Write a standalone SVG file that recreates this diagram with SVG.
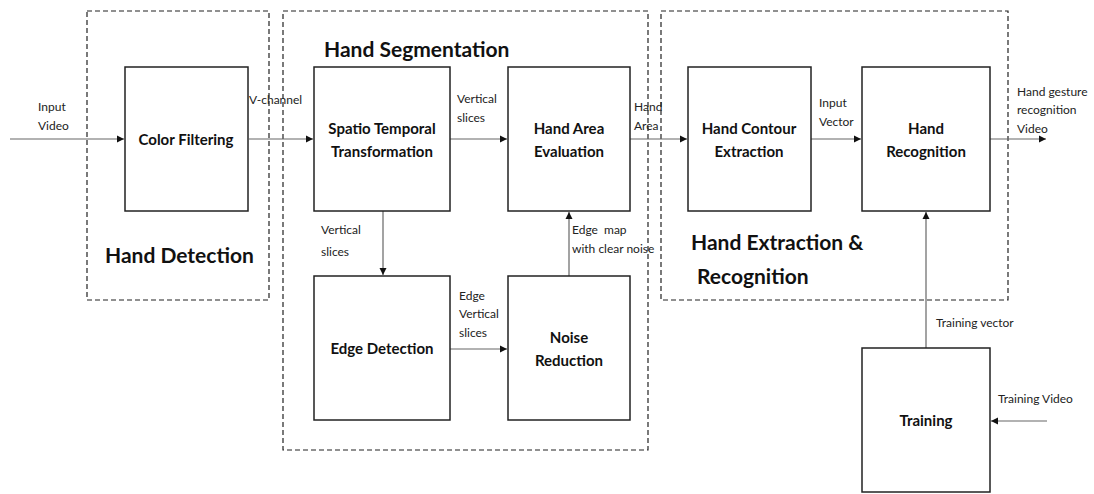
<svg xmlns="http://www.w3.org/2000/svg" width="1094" height="494" viewBox="0 0 1094 494">
  <style>
    .box { fill: #fff; stroke: #222; stroke-width: 1.5; }
    .grp { fill: none; stroke: #222; stroke-width: 1.2; stroke-dasharray: 5 3; }
    .edge { stroke: #666; stroke-width: 1.2; fill: none; marker-end: url(#arrow); }
    .lbl { font-family: Lato, "Open Sans", sans-serif; font-size: 12px; fill: #222; }
    .node { font-family: Lato, "Open Sans", sans-serif; font-size: 15px; font-weight: bold; fill: #111; text-anchor: middle; }
    .title { font-family: Lato, "Open Sans", sans-serif; font-size: 21px; font-weight: bold; fill: #111; }
  </style>
  <defs>
    <marker id="arrow" markerWidth="8" markerHeight="8" refX="7" refY="4" orient="auto" markerUnits="userSpaceOnUse">
      <path d="M0,0.5 L7,4 L0,7.5 z" fill="#111"/>
    </marker>
  </defs>
  <rect width="1094" height="494" fill="#fff"/>

  <!-- stage groups -->
  <g id="groups">
    <rect class="grp" x="87" y="11" width="182" height="289"/>
    <rect class="grp" x="283" y="11" width="365" height="439"/>
    <rect class="grp" x="661" y="11" width="347" height="289"/>
    <text class="title" x="105" y="263">Hand Detection</text>
    <text class="title" x="324" y="57">Hand Segmentation</text>
    <text class="title" x="691" y="250">Hand Extraction &amp;</text>
    <text class="title" x="697" y="284">Recognition</text>
  </g>

  <!-- connectors -->
  <g id="connectors">
    <line class="edge" x1="10" y1="139" x2="124" y2="139"/>
    <line class="edge" x1="249" y1="139" x2="313" y2="139"/>
    <line class="edge" x1="450" y1="139" x2="507" y2="139"/>
    <line class="edge" x1="630" y1="139" x2="687" y2="139"/>
    <line class="edge" x1="811" y1="139" x2="861" y2="139"/>
    <line class="edge" x1="990" y1="139" x2="1046" y2="139"/>
    <line class="edge" x1="383" y1="211" x2="383" y2="275"/>
    <line class="edge" x1="450" y1="349" x2="507" y2="349"/>
    <line class="edge" x1="569" y1="276" x2="569" y2="212"/>
    <line class="edge" x1="926" y1="348" x2="926" y2="212"/>
    <line class="edge" x1="1047" y1="421" x2="991" y2="421"/>

    <text class="lbl" x="38" y="111">Input</text>
    <text class="lbl" x="38" y="130">Video</text>
    <text class="lbl" x="249" y="104">V-channel</text>
    <text class="lbl" x="457" y="103">Vertical</text>
    <text class="lbl" x="457" y="122">slices</text>
    <text class="lbl" x="634" y="111">Hand</text>
    <text class="lbl" x="634" y="130">Area</text>
    <text class="lbl" x="819" y="107">Input</text>
    <text class="lbl" x="819" y="126">Vector</text>
    <text class="lbl" x="1017" y="96">Hand gesture</text>
    <text class="lbl" x="1017" y="114">recognition</text>
    <text class="lbl" x="1017" y="133">Video</text>
    <text class="lbl" x="321" y="234">Vertical</text>
    <text class="lbl" x="321" y="256">slices</text>
    <text class="lbl" x="459" y="300">Edge</text>
    <text class="lbl" x="459" y="318">Vertical</text>
    <text class="lbl" x="459" y="337">slices</text>
    <text class="lbl" x="572" y="234" xml:space="preserve">Edge  map</text>
    <text class="lbl" x="572" y="253">with clear noise</text>
    <text class="lbl" x="936" y="327">Training vector</text>
    <text class="lbl" x="998" y="403">Training Video</text>
  </g>

  <!-- processing blocks -->
  <g id="color-filtering">
    <rect class="box" x="125" y="67" width="123" height="144"/>
    <text class="node" x="186" y="145">Color Filtering</text>
  </g>
  <g id="spatio-temporal">
    <rect class="box" x="314" y="67" width="136" height="144"/>
    <text class="node" x="382" y="134">Spatio Temporal</text>
    <text class="node" x="382" y="157">Transformation</text>
  </g>
  <g id="hand-area">
    <rect class="box" x="508" y="67" width="122" height="144"/>
    <text class="node" x="569" y="134">Hand Area</text>
    <text class="node" x="569" y="157">Evaluation</text>
  </g>
  <g id="edge-detection">
    <rect class="box" x="314" y="276" width="136" height="144"/>
    <text class="node" x="382" y="354">Edge Detection</text>
  </g>
  <g id="noise-reduction">
    <rect class="box" x="508" y="276" width="122" height="144"/>
    <text class="node" x="569" y="343">Noise</text>
    <text class="node" x="569" y="366">Reduction</text>
  </g>
  <g id="hand-contour">
    <rect class="box" x="688" y="67" width="123" height="144"/>
    <text class="node" x="749" y="134">Hand Contour</text>
    <text class="node" x="749" y="157">Extraction</text>
  </g>
  <g id="hand-recognition">
    <rect class="box" x="862" y="67" width="128" height="144"/>
    <text class="node" x="926" y="134">Hand</text>
    <text class="node" x="926" y="157">Recognition</text>
  </g>
  <g id="training">
    <rect class="box" x="862" y="348" width="128" height="144"/>
    <text class="node" x="926" y="426">Training</text>
  </g>
</svg>
